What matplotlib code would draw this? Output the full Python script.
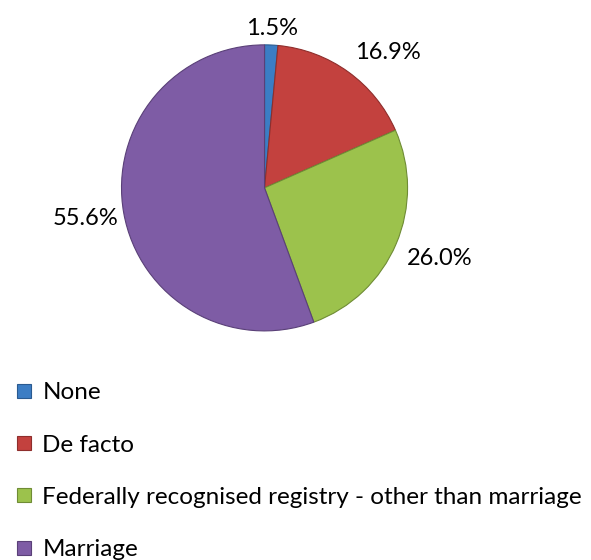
import numpy as np
import matplotlib
matplotlib.use('Agg')
import matplotlib.pyplot as plt
from matplotlib.lines import Line2D

categories = ['None', 'De facto', 'Federally recognised registry - other than marriage', 'Marriage']
shares = [1.5, 16.9, 26.0, 55.6]
colors = ['#3C7DC4', '#C3413E', '#9CC24C', '#7E5CA5']
edges = ['#2A5A90', '#8E2E2C', '#6F8C35', '#5A4078']

plt.rcParams['font.family'] = ['Lato', 'DejaVu Sans']

fig = plt.figure(figsize=(5.91, 5.6), dpi=100)
ax = fig.add_axes([0.2056, 0.409, 0.484, 0.511])
wedges, _ = ax.pie(shares, colors=colors, startangle=90, counterclock=False,
                   wedgeprops=dict(linewidth=0.8))
for w, ec in zip(wedges, edges):
    w.set_edgecolor(ec)
ax.set_xlim(-1, 1)
ax.set_ylim(-1, 1)
ax.set_aspect('equal')

# outside-end labels, aligned away from the circle
for w, val in zip(wedges, shares):
    mid = np.deg2rad((w.theta1 + w.theta2) / 2)
    c, s = np.cos(mid), np.sin(mid)
    ha = 'left' if c > 0.3 else ('right' if c < -0.3 else 'center')
    va = 'bottom' if s > 0.3 else ('top' if s < -0.3 else 'center')
    if abs(c) < 0.3:
        d = 1.04
    elif c < -0.3:
        d = 1.04
    else:
        d = 1.08
    ax.text(d * c, d * s - (0.03 if abs(s) < 0.3 else 0), f'{val:.1f}%',
            ha=ha, va=va, fontsize=17, clip_on=False)

handles = [Line2D([], [], marker='s', linestyle='none', markersize=10.5,
                  markerfacecolor=col, markeredgecolor=ec, markeredgewidth=0.8)
           for col, ec in zip(colors, edges)]
fig.legend(handles, categories, loc='upper left', bbox_to_anchor=(0.008, 0.335),
           frameon=False, fontsize=17.5, handlelength=0.8, handletextpad=0.35,
           labelspacing=1.29, borderaxespad=0)

fig.savefig('out.png', dpi=100)
